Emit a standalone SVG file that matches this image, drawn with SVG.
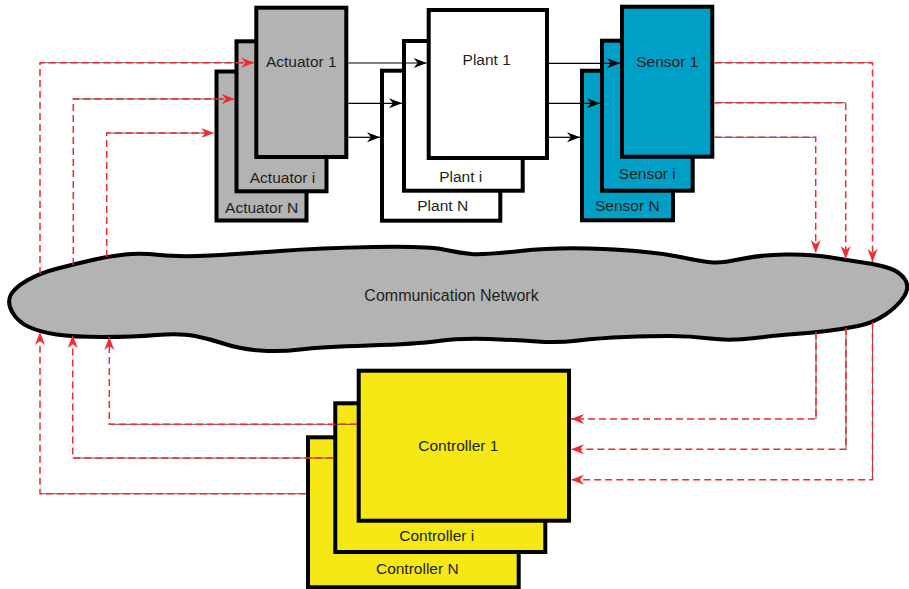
<svg xmlns="http://www.w3.org/2000/svg" width="909" height="589" viewBox="0 0 909 589">
<style>
.box{stroke:#000;stroke-width:4}
.act{fill:#b3b3b3}
.plant{fill:#fff}
.sen{fill:#00a0c6}
.ctl{fill:#f5e814}
.lbl{font-family:"Liberation Sans",Arial,sans-serif;font-size:15.5px;fill:#231f20;text-anchor:middle}
.blk{fill:none;stroke:#000;stroke-width:1.2;marker-end:url(#ab)}
.red{fill:none;stroke:#ee2b31;stroke-width:1.5;stroke-dasharray:7 4;marker-end:url(#ar)}
.ul{fill:none;stroke:#333;stroke-width:0.8}
</style>
<defs>
<marker id="ar" markerUnits="userSpaceOnUse" markerWidth="14" markerHeight="12" viewBox="-14 -6 14 12" refX="0" refY="0" orient="auto">
<path d="M0,0 L-13,-5 L-9,0 L-13,5 Z" fill="#ee2b31"/>
</marker>
<marker id="ab" markerUnits="userSpaceOnUse" markerWidth="14" markerHeight="12" viewBox="-14 -6 14 12" refX="0" refY="0" orient="auto">
<path d="M0,0 L-13,-5 L-9,0 L-13,5 Z" fill="#000"/>
</marker>
</defs>
<rect width="909" height="589" fill="#fff"/>

<g id="network">
<path fill="#b3b3b3" stroke="#000" stroke-width="4" d="M12.5,312.5 Q7,303 10.5,295.5 Q14,288 27,280.5 Q40,273 57.5,268.5 Q75,264 92.5,260 Q110,256 125,254.5 Q140,253 160,255 Q180,257 210,255.5 Q240,254 280,251 Q320,248 373.5,247 Q427,246 443.5,249.5 Q460,253 471.5,254 Q483,255 520,251 Q557,247 603.5,249 Q650,251 677.5,256.5 Q705,262 713.5,262.5 Q722,263 741,259 Q760,255 785,254.5 Q810,254 828,257 Q846,260 863,262.5 Q880,265 890,268.5 Q900,272 905,279.5 Q910,287 904,296.5 Q898,306 885.5,314.5 Q873,323 858,326 Q843,329 826.5,331 Q810,333 795,334 Q780,335 755,338 Q730,341 710,338.5 Q690,336 670,336 Q650,336 625,337 Q600,338 578.5,340.5 Q557,343 537,341.5 Q517,340 488.5,339 Q460,338 438.5,341 Q417,344 368.5,345.5 Q320,347 300,349.5 Q280,352 260,350.5 Q240,349 225,344 Q210,339 195,336 Q180,333 156.5,335 Q133,337 103,337 Q73,337 56.5,334.5 Q40,332 29,327 Q18,322 12.5,312.5 Z"/>
<text class="lbl" x="451.5" y="300.5" style="font-size:16px">Communication Network</text>
</g>

<g id="actuator-N"><rect class="box act" x="216.5" y="71.5" width="90" height="149"/><text class="lbl" x="261.7" y="212.7">Actuator N</text></g>
<g id="actuator-i"><rect class="box act" x="236.5" y="41.3" width="90" height="150"/><text class="lbl" x="282.5" y="182.7">Actuator i</text></g>
<g id="actuator-1"><rect class="box act" x="256.3" y="7.7" width="90" height="149.3"/><text class="lbl" x="301.3" y="66.7">Actuator 1</text></g>

<g id="plant-N"><rect class="box plant" x="382" y="70.7" width="118.3" height="150"/><text class="lbl" x="442.7" y="211">Plant N</text></g>
<g id="plant-i"><rect class="box plant" x="404" y="41" width="118.7" height="149.7"/><text class="lbl" x="460.7" y="181.7">Plant i</text></g>
<g id="plant-1"><rect class="box plant" x="428.7" y="10" width="118.3" height="148"/><text class="lbl" x="486.7" y="65.3">Plant 1</text></g>

<g id="sensor-N"><rect class="box sen" x="582" y="70.7" width="91" height="149.6"/><text class="lbl" x="627.3" y="210.7">Sensor N</text></g>
<g id="sensor-i"><rect class="box sen" x="602" y="40.7" width="90.7" height="150"/><text class="lbl" x="647.3" y="179.3">Sensor i</text></g>
<g id="sensor-1"><rect class="box sen" x="622" y="6.7" width="90.3" height="150"/><text class="lbl" x="667.3" y="66.7">Sensor 1</text></g>

<g id="controller-N"><rect class="box ctl" x="308" y="437.3" width="210.7" height="150"/><text class="lbl" x="417.3" y="574">Controller N</text></g>
<g id="controller-i"><rect class="box ctl" x="335.3" y="403.3" width="210" height="148.7"/><text class="lbl" x="436.7" y="540.7">Controller i</text></g>
<g id="controller-1"><rect class="box ctl" x="358.7" y="370.7" width="210.3" height="150"/><text class="lbl" x="458.3" y="450.7">Controller 1</text></g>

<g id="connectors">
<path class="blk" d="M348.3,63 H426.7"/>
<path class="blk" d="M348.3,103.3 H402"/>
<path class="blk" d="M348.3,137.3 H380"/>
<path class="blk" d="M549,63.3 H620"/>
<path class="blk" d="M549,103.3 H600"/>
<path class="blk" d="M549,137.3 H580"/>

<path class="ul" d="M40,62.7 H244 M73.3,99 H224 M106.7,133 H204"/>
<path class="ul" d="M714.3,62.7 H872.5 M714.3,102.7 H845.7 M714.3,137.3 H815.7"/>
<path class="ul" d="M357,424.3 H109.3 M333.3,458 H72.7 M306,493.7 H40"/>
<path class="ul" d="M816,332 V419 M846,328 V449.3 M872.5,322 V479.7"/>

<path class="red" d="M40,274 V62.7 H254.3"/>
<path class="red" d="M73.3,265 V99 H234.7"/>
<path class="red" d="M106.7,257 V133 H214.3"/>
<path class="red" d="M714.3,62.7 H872.5 V262"/>
<path class="red" d="M714.3,102.7 H845.7 V259"/>
<path class="red" d="M714.3,137.3 H815.7 V253"/>
<path class="red" d="M816,332 V419 H571"/>
<path class="red" d="M846,328 V449.3 H571"/>
<path class="red" d="M872.5,322 V479.7 H571"/>
<path class="red" d="M357,424.3 H109.3 V337"/>
<path class="red" d="M333.3,458 H72.7 V335"/>
<path class="red" d="M306,493.7 H40 V332"/>
</g>
</svg>
